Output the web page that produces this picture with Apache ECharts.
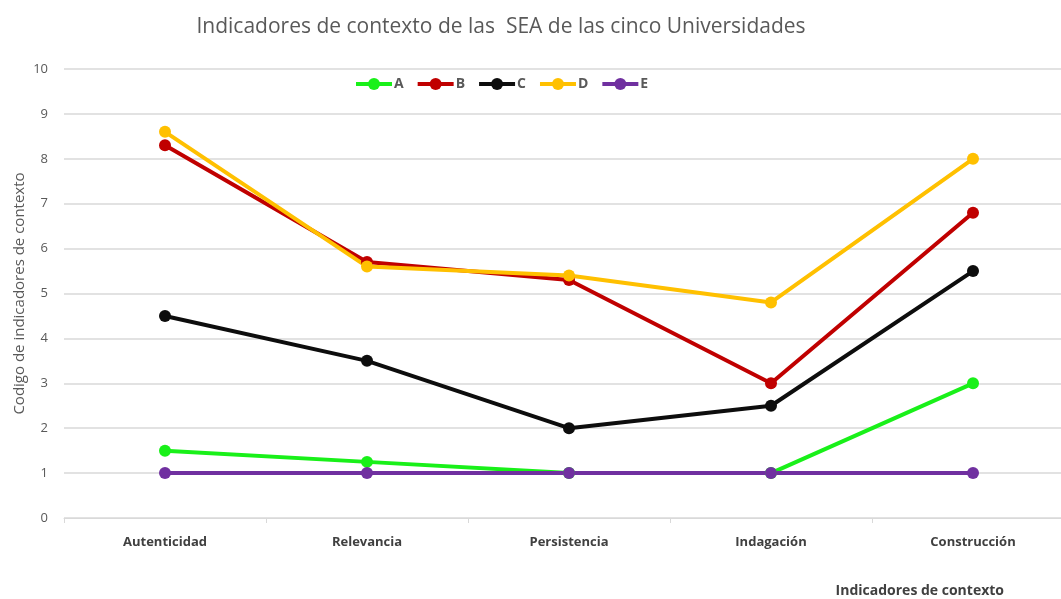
<!DOCTYPE html>
<html><head><meta charset="utf-8">
<script src="https://cdn.jsdelivr.net/npm/echarts@6/dist/echarts.min.js"></script>
<style>html,body{margin:0;padding:0;background:#fff}#c{width:1061px;height:599px}</style>
</head><body><div id="c"></div>
<script>
const categories = ['Autenticidad','Relevancia','Persistencia','Indagación','Construcción'];
const seriesNames = ['A','B','C','D','E'];
const valuesA = [1.5, 1.25, 1, 1, 3];
const valuesB = [8.3, 5.7, 5.3, 3, 6.8];
const valuesC = [4.5, 3.5, 2, 2.5, 5.5];
const valuesD = [8.6, 5.6, 5.4, 4.8, 8.0];
const valuesE = [1, 1, 1, 1, 1];
const yTicks = [0,1,2,3,4,5,6,7,8,9,10];
const colors = ['#19f019','#c00000','#0d0d0d','#ffc000','#7030a0'];
const allValues = [valuesA, valuesB, valuesC, valuesD, valuesE];

const chart = echarts.init(document.getElementById('c'));
chart.setOption({
  animation: false,
  title: {
    text: 'Indicadores de contexto de las  SEA de las cinco Universidades',
    left: 496, top: 12, textAlign: 'center',
    textStyle: {fontFamily: 'Open Sans', fontWeight: 'normal', fontSize: 21, color: '#595959'}
  },
  legend: {
    top: 72, left: 349,
    itemWidth: 36, itemHeight: 15, itemGap: 12,
    data: seriesNames,
    lineStyle: {width: 4},
    textStyle: {fontFamily: 'Open Sans', fontWeight: 'bold', fontSize: 14, color: '#595959', padding: [0,0,0,-3]}
  },
  grid: {left: 64, width: 1010, top: 69, bottom: 81, outerBoundsMode: 'none', containLabel: false},
  xAxis: {
    type: 'category', data: categories, boundaryGap: true,
    name: 'Indicadores de contexto', nameLocation: 'end',
    nameGap: 0,
    nameTextStyle: {fontFamily: 'Open Sans', fontWeight: 'bold', fontSize: 14, color: '#404040',
      align: 'right', verticalAlign: 'top', padding: [66, 70, 0, 0]},
    axisLine: {lineStyle: {color: '#d9d9d9', width: 1}},
    axisTick: {show: true, length: 5, lineStyle: {color: '#d9d9d9'}},
    axisLabel: {fontFamily: 'Open Sans', fontWeight: 'bold', fontSize: 13, color: '#404040', margin: 18}
  },
  yAxis: {
    type: 'value', min: 0, max: 10, interval: 1,
    name: 'Codigo de indicadores de contexto', nameLocation: 'middle', nameGap: 37,
    nameMoveOverlap: false,
    nameTextStyle: {fontFamily: 'Open Sans', fontSize: 15, color: '#595959'},
    axisLine: {show: false}, axisTick: {show: false},
    axisLabel: {fontFamily: 'Open Sans', fontSize: 13, color: '#595959', margin: 16,
      formatter: v => yTicks.includes(v) ? String(v) : ''},
    splitLine: {lineStyle: {color: '#d9d9d9', width: 1.5}}
  },
  series: seriesNames.map((n, i) => ({
    name: n, type: 'line', data: allValues[i],
    color: colors[i],
    symbol: 'circle', symbolSize: 12,
    lineStyle: {width: 4, color: colors[i]},
    itemStyle: {color: colors[i]}
  }))
});
</script></body></html>
